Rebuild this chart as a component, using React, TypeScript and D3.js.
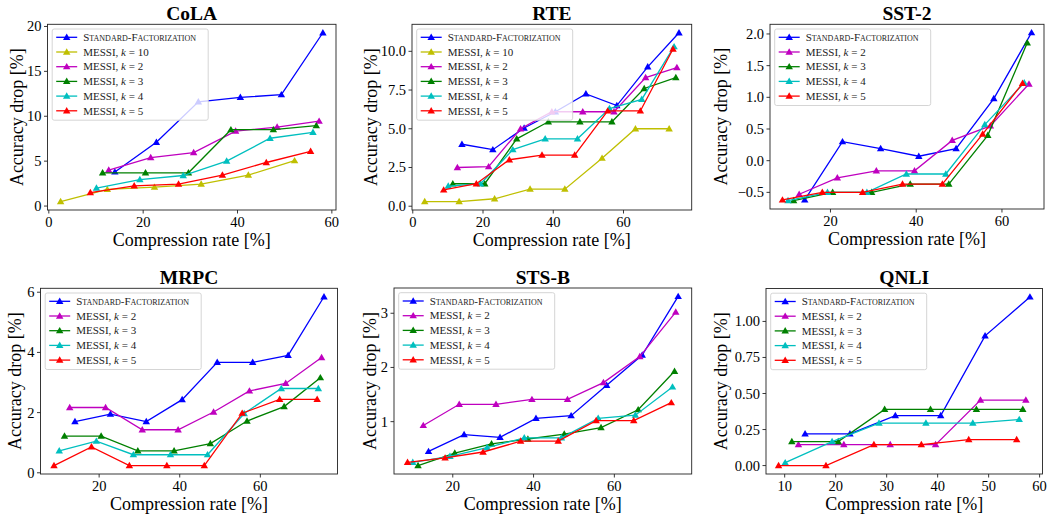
import React from "react";
import * as d3 from "d3";

// ---- shared compression rates (x) per method ----
const stdX = [14.0, 22.8, 31.7, 40.6, 49.3, 58.1, 66.9, 75.8];
const k2X = [12.7, 21.6, 30.7, 39.6, 48.4, 57.3, 66.3, 75.2];
const k3X = [11.4, 20.5, 29.6, 38.6, 47.6, 56.7, 65.9, 74.9];
const k4X = [10.1, 19.3, 28.5, 37.7, 46.9, 56.0, 65.2, 74.4];
const k5X = [8.8, 18.1, 27.5, 36.8, 46.1, 55.5, 64.8, 74.1];
const colaK10X = [2.5, 12.4, 22.4, 32.3, 42.3, 52.1];
const rteK10X = [3.4, 13.2, 23.3, 33.4, 43.3, 53.9, 63.4, 73.0];

// ---- accuracy drops (y) ----
const colaStd = [3.8, 7.1, 11.6, 12.1, 12.4, 19.3];
const colaK10 = [0.5, 1.85, 2.1, 2.45, 3.45, 5.05];
const colaK2 = [4.0, 5.4, 5.95, 8.35, 8.8, 9.45];
const colaK3 = [3.7, 3.7, 3.7, 8.5, 8.5, 8.95];
const colaK4 = [2.0, 2.95, 3.4, 5.0, 7.55, 8.2];
const colaK5 = [1.5, 2.25, 2.45, 3.45, 4.85, 6.1];

const rteStd = [4.0, 3.65, 5.05, 6.1, 7.25, 6.5, 9.0, 11.2];
const rteK10 = [0.3, 0.3, 0.48, 1.1, 1.1, 3.1, 5.0, 5.0];
const rteK2 = [2.5, 2.55, 5.0, 6.1, 6.1, 6.1, 8.3, 8.95];
const rteK3 = [1.45, 1.45, 4.35, 5.45, 5.45, 5.45, 7.6, 8.3];
const rteK4 = [1.3, 1.45, 3.65, 4.35, 4.35, 6.3, 6.9, 10.3];
const rteK5 = [1.05, 1.45, 3.0, 3.3, 3.3, 6.15, 6.15, 10.15];

const sstStd = [-0.62, 0.3, 0.19, 0.07, 0.19, 0.98, 2.02];
const sstK2 = [-0.53, -0.27, -0.16, -0.16, 0.32, 0.55, 1.21];
const sstK3 = [-0.63, -0.5, -0.5, -0.37, -0.37, 0.4, 1.86];
const sstK4 = [-0.63, -0.5, -0.5, -0.21, -0.21, 0.57, 1.23];
const sstK5 = [-0.62, -0.5, -0.5, -0.37, -0.37, 0.42, 1.22];

const mrpcStd = [1.7, 1.95, 1.7, 2.43, 3.67, 3.67, 3.9, 5.85];
const mrpcK2 = [2.17, 2.17, 1.43, 1.43, 2.02, 2.72, 2.97, 3.83];
const mrpcK3 = [1.22, 1.22, 0.73, 0.73, 0.97, 1.72, 2.2, 3.16];
const mrpcK4 = [0.73, 1.05, 0.6, 0.6, 0.6, 1.97, 2.8, 2.8];
const mrpcK5 = [0.24, 0.86, 0.24, 0.24, 0.24, 1.98, 2.44, 2.44];

const stsStd = [0.45, 0.76, 0.71, 1.06, 1.11, 1.67, 2.23, 3.31];
const stsK2 = [0.93, 1.32, 1.32, 1.41, 1.41, 1.72, 2.2, 3.02];
const stsK3 = [0.19, 0.42, 0.59, 0.68, 0.77, 0.89, 1.22, 1.93];
const stsK4 = [0.25, 0.36, 0.52, 0.7, 0.7, 1.06, 1.12, 1.64];
const stsK5 = [0.25, 0.33, 0.44, 0.64, 0.64, 1.02, 1.02, 1.35];

const qnliStd = [0.22, 0.22, 0.347, 0.347, 0.9, 1.17];
const qnliK2 = [0.145, 0.145, 0.145, 0.145, 0.454, 0.454];
const qnliK3 = [0.166, 0.166, 0.39, 0.39, 0.39, 0.39];
const qnliK4 = [0.02, 0.166, 0.295, 0.295, 0.295, 0.32];
const qnliK5 = [0.0, 0.0, 0.145, 0.145, 0.18, 0.18];

// ---- tick labels ----
const xTicks60 = [0, 20, 40, 60];
const xTicks2060 = [20, 40, 60];
const xTicksQnli = [10, 20, 30, 40, 50, 60];
const yTicksCola = [0, 5, 10, 15, 20];
const yTicksRte = [0, 2.5, 5, 7.5, 10];
const yTicksSst = [-0.5, 0, 0.5, 1.0, 1.5, 2.0];
const yTicksMrpc = [0, 2, 4, 6];
const yTicksSts = [1, 2, 3];
const yTicksQnli = [0, 0.25, 0.5, 0.75, 1.0];

const titles = ["CoLA", "RTE", "SST-2", "MRPC", "STS-B", "QNLI"];

const COLORS = {
  std: "#0000ff",
  k10: "#bfbf00",
  k2: "#bf00bf",
  k3: "#008000",
  k4: "#00bfbf",
  k5: "#ff0000",
};

type Series = { key: string; label: string; k?: string; color: string; x: number[]; y: number[] };

const mk = (key: string, x: number[], y: number[]): Series => {
  const k = key === "std" ? undefined : key.slice(1);
  return { key, label: key === "std" ? "Standard-Factorization" : "MESSI, ", k, color: (COLORS as any)[key], x, y };
};

const panels = [
  {
    title: titles[0],
    box: { l: 47.5, r: 336, t: 24.3, b: 210 },
    ylabX: 16.5,
    series: [mk("std", stdX, colaStd), mk("k10", colaK10X, colaK10), mk("k2", k2X, colaK2), mk("k3", k3X, colaK3), mk("k4", k4X, colaK4), mk("k5", k5X, colaK5)],
    xTicks: xTicks60, yTicks: yTicksCola, yFmt: (v: number) => d3.format("d")(v),
  },
  {
    title: titles[1],
    box: { l: 412, r: 691.7, t: 24.3, b: 210 },
    ylabX: 370.5,
    series: [mk("std", stdX, rteStd), mk("k10", rteK10X, rteK10), mk("k2", k2X, rteK2), mk("k3", k3X, rteK3), mk("k4", k4X, rteK4), mk("k5", k5X, rteK5)],
    xTicks: xTicks60, yTicks: yTicksRte, yFmt: (v: number) => d3.format(".1f")(v),
  },
  {
    title: titles[2],
    box: { l: 770, r: 1044, t: 24.3, b: 209 },
    ylabX: 721,
    series: [mk("std", stdX, sstStd), mk("k2", k2X, sstK2), mk("k3", k3X, sstK3), mk("k4", k4X, sstK4), mk("k5", k5X, sstK5)],
    xTicks: xTicks2060, yTicks: yTicksSst, yFmt: (v: number) => d3.format(".1f")(v).replace("-", "\u2212"),
  },
  {
    title: titles[3],
    box: { l: 40.5, r: 337.5, t: 288.3, b: 474 },
    ylabX: 14.5,
    series: [mk("std", stdX, mrpcStd), mk("k2", k2X, mrpcK2), mk("k3", k3X, mrpcK3), mk("k4", k4X, mrpcK4), mk("k5", k5X, mrpcK5)],
    xTicks: xTicks2060, yTicks: yTicksMrpc, yFmt: (v: number) => d3.format("d")(v),
  },
  {
    title: titles[4],
    box: { l: 394, r: 691.7, t: 288, b: 474 },
    ylabX: 369.5,
    series: [mk("std", stdX, stsStd), mk("k2", k2X, stsK2), mk("k3", k3X, stsK3), mk("k4", k4X, stsK4), mk("k5", k5X, stsK5)],
    xTicks: xTicks2060, yTicks: yTicksSts, yFmt: (v: number) => d3.format("d")(v),
  },
  {
    title: titles[5],
    box: { l: 766, r: 1042.5, t: 288.5, b: 474 },
    ylabX: 721,
    series: [mk("std", stdX, qnliStd), mk("k2", k2X, qnliK2), mk("k3", k3X, qnliK3), mk("k4", k4X, qnliK4), mk("k5", k5X, qnliK5)],
    xTicks: xTicksQnli, yTicks: yTicksQnli, yFmt: (v: number) => d3.format(".2f")(v),
  },
];

const FONT = "'Liberation Serif', 'Times New Roman', serif";

function padded(vals: number[]): [number, number] {
  const [a, b] = d3.extent(vals) as [number, number];
  const m = (b - a) * 0.05;
  return [a - m, b + m];
}

const tri = d3.symbol().type(d3.symbolTriangle).size(24);

function Panel({ p }: { p: (typeof panels)[number] }) {
  const { l, r, t, b } = p.box;
  const allX = p.series.flatMap((s) => s.x.slice(0, s.y.length));
  const allY = p.series.flatMap((s) => s.y);
  const xs = d3.scaleLinear().domain(padded(allX)).range([l, r]);
  const ys = d3.scaleLinear().domain(padded(allY)).range([b, t]);
  const line = d3.line<[number, number]>().x((d) => xs(d[0])).y((d) => ys(d[1]));
  const cx = (l + r) / 2;
  const cy = (t + b) / 2;
  const rowH = 14.7;
  const lgX = l + 4.7;
  const lgY = t + 4.7;
  const lgW = 156;
  const lgH = p.series.length * rowH + 3;
  return (
    <g>
      <text x={cx} y={t - 4.5} textAnchor="middle" fontFamily={FONT} fontWeight="bold" fontSize={19.5}>
        {p.title}
      </text>
      {p.series.map((s) => {
        const pts = s.y.map((v, i) => [s.x[i], v] as [number, number]);
        return (
          <g key={s.key}>
            <path d={line(pts) || ""} fill="none" stroke={s.color} strokeWidth={1.3} />
            {pts.map((d, i) => (
              <path key={i} d={tri() || ""} transform={`translate(${xs(d[0])},${ys(d[1]) + 0.5})`} fill={s.color} />
            ))}
          </g>
        );
      })}
      <rect x={l} y={t} width={r - l} height={b - t} fill="none" stroke="#222" strokeWidth={0.9} />
      {p.xTicks.map((v) => (
        <g key={"x" + v}>
          <line x1={xs(v)} x2={xs(v)} y1={b} y2={b + 3.5} stroke="#222" strokeWidth={0.9} />
          <text x={xs(v)} y={b + 16.5} textAnchor="middle" fontFamily={FONT} fontSize={14.5}>
            {v}
          </text>
        </g>
      ))}
      {p.yTicks.map((v) => (
        <g key={"y" + v}>
          <line x1={l - 3.5} x2={l} y1={ys(v)} y2={ys(v)} stroke="#222" strokeWidth={0.9} />
          <text x={l - 6} y={ys(v) + 5} textAnchor="end" fontFamily={FONT} fontSize={14.5}>
            {p.yFmt(v)}
          </text>
        </g>
      ))}
      <text x={cx} y={b + 35.5} textAnchor="middle" fontFamily={FONT} fontSize={18}>
        Compression rate [%]
      </text>
      <text
        transform={`translate(${p.ylabX},${cy}) rotate(-90)`}
        textAnchor="middle"
        dominantBaseline="central"
        fontFamily={FONT}
        fontSize={18}
      >
        Accuracy drop [%]
      </text>
      <rect x={lgX} y={lgY} width={lgW} height={lgH} rx={2} fill="#fff" fillOpacity={0.8} stroke="#d0d0d0" strokeWidth={0.9} />
      {p.series.map((s, i) => {
        const yy = lgY + 8.3 + rowH * i;
        return (
          <g key={"lg" + s.key}>
            <line x1={lgX + 4} x2={lgX + 25} y1={yy} y2={yy} stroke={s.color} strokeWidth={1.3} />
            <path d={tri() || ""} transform={`translate(${lgX + 14.5},${yy + 0.5})`} fill={s.color} />
            <text x={lgX + 31} y={yy + 3.7} fontFamily={FONT} fontSize={11} fill="#222">
              {s.k === undefined ? (
                <tspan style={{ fontVariant: "small-caps" }}>{s.label}</tspan>
              ) : (
                <>
                  <tspan>{s.label}</tspan>
                  <tspan fontStyle="italic">k</tspan>
                  <tspan>{" = " + s.k}</tspan>
                </>
              )}
            </text>
          </g>
        );
      })}
    </g>
  );
}

export default function App() {
  return (
    <svg
      width={1048}
      height={514}
      style={{ position: "absolute", left: 0, top: 0, background: "#fff" }}
    >
      <rect width={1048} height={514} fill="#fff" />
      {panels.map((p) => (
        <Panel key={p.title} p={p} />
      ))}
    </svg>
  );
}
